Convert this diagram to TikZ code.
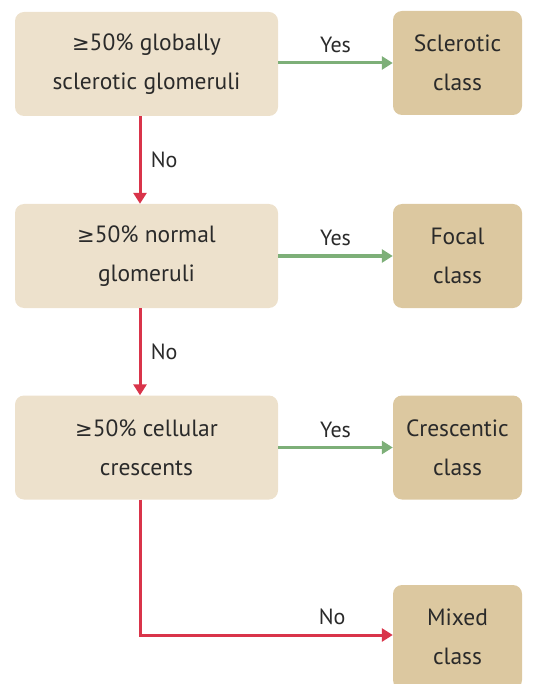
\documentclass[tikz,border=0pt]{standalone}
\usepackage{fontspec}
\setmainfont{PT Sans}
\newfontfamily\symfont{DejaVu Sans}
\usetikzlibrary{arrows.meta}
\definecolor{lbox}{HTML}{EDE1CC}
\definecolor{dbox}{HTML}{DCC8A0}
\definecolor{yesc}{HTML}{7DAF78}
\definecolor{noc}{HTML}{D9344A}
\definecolor{txt}{HTML}{2A2A2A}
\begin{document}
\begin{tikzpicture}[x=1pt,y=-1pt,
  qbox/.style={fill=lbox, rounded corners=9pt, minimum width=263pt, minimum height=104pt, align=center, text=txt, font=\fontsize{23.5}{39}\selectfont},
  cbox/.style={fill=dbox, rounded corners=9pt, minimum width=129pt, minimum height=104pt, align=center, text=txt, font=\fontsize{23.5}{39}\selectfont},
  yesarr/.style={draw=yesc, line width=3pt, -{Triangle[length=11pt,width=13pt]}},
  noarr/.style={draw=noc, line width=3pt, -{Triangle[length=11pt,width=13pt]}},
  lab/.style={text=txt, font=\fontsize{22}{26}\selectfont}]
\useasboundingbox (0,0) rectangle (544,684);
\node[qbox] (q1) at (146.5,64) {{\symfont\fontsize{21}{39}\selectfont ≥}50\% globally\\sclerotic glomeruli};
\node[qbox] (q2) at (146.5,256) {{\symfont\fontsize{21}{39}\selectfont ≥}50\% normal\\glomeruli};
\node[qbox] (q3) at (146.5,447.5) {{\symfont\fontsize{21}{39}\selectfont ≥}50\% cellular\\crescents};
\node[cbox] (c1) at (457.5,63) {Sclerotic\\class};
\node[cbox] (c2) at (457.5,256) {Focal\\class};
\node[cbox] (c3) at (457.5,447.5) {Crescentic\\class};
\node[cbox] (c4) at (457.5,637) {Mixed\\class};
\coordinate (k) at (140,635);
\draw[yesarr] (q1.east |- c1) -- node[lab, above=5pt] {Yes} (c1.west);
\draw[yesarr] (q2.east |- c2) -- node[lab, above=5pt] {Yes} (c2.west);
\draw[yesarr] (q3.east |- c3) -- node[lab, above=5pt] {Yes} (c3.west);
\draw[noarr] (q1.south -| k) -- node[lab, right=6pt] {No} (q2.north -| k);
\draw[noarr] (q2.south -| k) -- node[lab, right=6pt] {No} (q3.north -| k);
\draw[noarr] (q3.south -| k) -- (k) -- node[lab, above=5pt, pos=0.76] {No} (k -| c4.west);
\end{tikzpicture}
\end{document}
